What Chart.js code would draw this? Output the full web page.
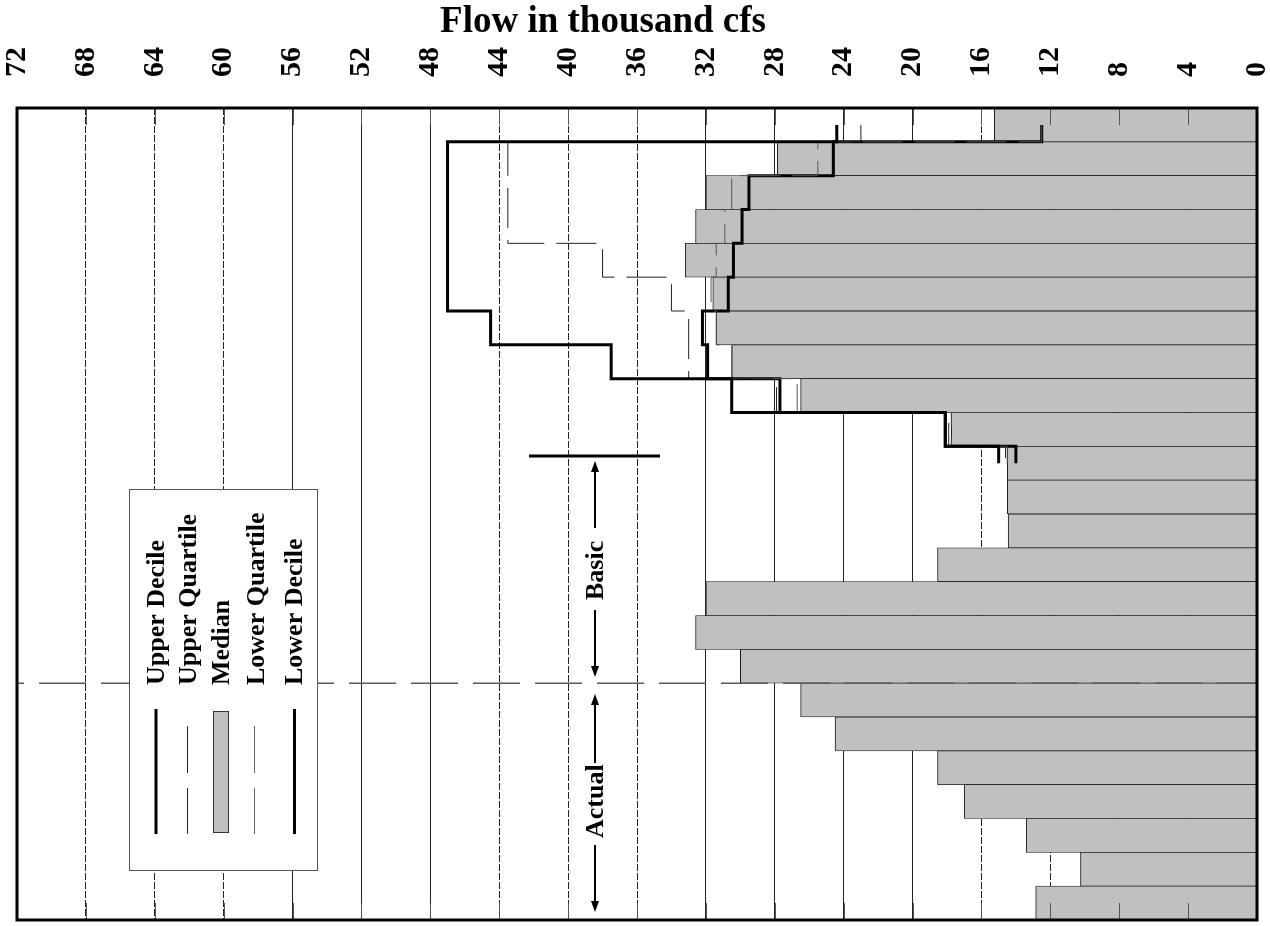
<!DOCTYPE html>
<html>
<head>
<meta charset="utf-8">
<title>Flow in thousand cfs</title>
<script src="https://cdn.jsdelivr.net/npm/chart.js@4.4.1/dist/chart.umd.min.js"></script>
<style>
  html, body { margin: 0; padding: 0; background: #fff; }
  #wrap { width: 1270px; height: 926px; position: relative; }
</style>
</head>
<body>
<div id="wrap"><canvas id="flow-chart"></canvas></div>
<script>
// periods run down the page, flow (thousand cfs) runs right to left
const periods = ['1', '2', '3', '4', '5', '6', '7', '8', '9', '10', '11', '12',
                 '13', '14', '15', '16', '17', '18', '19', '20', '21', '22', '23', '24'];
const median = [15.25, 27.85, 32.0, 32.6, 33.2, 31.6, 31.4, 30.5, 26.5, 17.75, 14.5, 14.5,
                14.45, 18.55, 32.0, 32.6, 30.0, 26.5, 24.5, 18.55, 17.0, 13.4, 10.25, 12.85];

// forecast band, periods 1-11
const upperDecile   = [24.4, 47.0, 47.0, 47.0, 47.0, 47.0, 44.5, 37.5, 30.5, 18.1, 15.0];
const upperQuartile = [23.0, 43.5, 43.5, 43.5, 38.0, 34.0, 33.0, 33.0, 27.9, 17.9, 14.6];
const lowerQuartile = [12.5, 25.5, 30.5, 30.9, 31.4, 31.7, 31.4, 30.5, 26.7, 17.75, 14.5];
const lowerDecile   = [12.5, 24.6, 29.5, 29.9, 30.4, 30.7, 32.2, 31.9, 27.7, 18.1, 14.0];

const flowTicks = [0, 4, 8, 12, 16, 20, 24, 28, 32, 36, 40, 44, 48, 52, 56, 60, 64, 68, 72];

const SERIF = '"Liberation Serif", "Times New Roman", serif';
const TICK_SIZE = 30;
const dashedFlows = [68, 64, 60, 44, 40, 36, 16, 12];
const forecastStart = 0.5;   // forecast begins half way through period 1
const forecastEnd = 10.5;    // and stops half way through period 11
const actualFrom = 17;       // boundary between basic and actual periods

// each period gets a vertical run at its value, joined by horizontal steps
function stepPoints(values) {
  const pts = [];
  values.forEach((v, i) => {
    const top = i === 0 ? forecastStart : i;
    const bottom = i === values.length - 1 ? forecastEnd : i + 1;
    pts.push({ x: v, y: top }, { x: v, y: bottom });
  });
  return pts;
}

function stepLine(label, values, style) {
  return Object.assign({
    type: 'line',
    label,
    data: stepPoints(values),
    pointRadius: 0,
    tension: 0,
    fill: false,
    borderCapStyle: 'butt',
    borderJoinStyle: 'miter',
    order: 0
  }, style);
}

function rotatedText(ctx, text, x, y) {
  ctx.save();
  ctx.translate(x, y);
  ctx.rotate(-Math.PI / 2);
  ctx.textAlign = 'left';
  ctx.textBaseline = 'alphabetic';
  ctx.fillText(text, 0, 0);
  ctx.restore();
}

function vline(ctx, x, y1, y2) {
  ctx.beginPath();
  ctx.moveTo(x, y1);
  ctx.lineTo(x, y2);
  ctx.stroke();
}

function arrowHead(ctx, x, tipY, dir) {
  // dir = -1 points up, 1 points down
  ctx.beginPath();
  ctx.moveTo(x, tipY);
  ctx.lineTo(x - 4, tipY - dir * 11);
  ctx.lineTo(x + 4, tipY - dir * 11);
  ctx.closePath();
  ctx.fill();
}

const decorations = {
  id: 'decorations',
  afterDraw(chart) {
    const { ctx, chartArea: a, scales: { x, y } } = chart;
    ctx.save();

    // inward tick marks along top and bottom edges
    ctx.strokeStyle = '#555';
    ctx.lineWidth = 1;
    flowTicks.forEach(v => {
      if (v === 0 || v === 72) return;
      const px = Math.round(x.getPixelForValue(v)) + 0.5;
      vline(ctx, px, a.top, a.top + 17);
      vline(ctx, px, a.bottom - 17, a.bottom);
    });

    // dashed divider between basic and actual periods
    const yDiv = y.getPixelForValue(actualFrom);
    ctx.strokeStyle = '#5a5a5a';
    ctx.lineWidth = 1.5;
    ctx.setLineDash([47, 15]);
    ctx.lineDashOffset = 40;
    ctx.beginPath();
    ctx.moveTo(a.left, yDiv);
    ctx.lineTo(a.right, yDiv);
    ctx.stroke();
    ctx.setLineDash([]);
    ctx.lineDashOffset = 0;

    // legend
    ctx.fillStyle = '#fff';
    ctx.fillRect(129, 489, 189, 382);
    ctx.strokeStyle = '#555';
    ctx.lineWidth = 1;
    ctx.strokeRect(129.5, 489.5, 188, 381);

    ctx.strokeStyle = '#000';
    ctx.lineWidth = 3;
    vline(ctx, 156, 709, 834);
    vline(ctx, 294.5, 709, 834);
    ctx.lineWidth = 1;
    ctx.strokeStyle = '#222';
    vline(ctx, 187.5, 726, 773);
    vline(ctx, 187.5, 788, 834);
    ctx.strokeStyle = '#666';
    vline(ctx, 254.5, 726, 773);
    vline(ctx, 254.5, 788, 834);
    ctx.fillStyle = '#c0c0c0';
    ctx.fillRect(213.5, 711.5, 15, 121);
    ctx.strokeStyle = '#333';
    ctx.strokeRect(213.5, 711.5, 15, 121);

    ctx.fillStyle = '#000';
    ctx.font = 'bold 26px ' + SERIF;
    rotatedText(ctx, 'Upper Decile', 164, 685);
    rotatedText(ctx, 'Upper Quartile', 196, 685);
    rotatedText(ctx, 'Median', 229, 685);
    rotatedText(ctx, 'Lower Quartile', 264, 685);
    rotatedText(ctx, 'Lower Decile', 302, 685);

    // basic / actual span markers
    ctx.strokeStyle = '#000';
    ctx.lineWidth = 3;
    ctx.beginPath();
    ctx.moveTo(529, 456);
    ctx.lineTo(660, 456);
    ctx.stroke();

    const ax = 595;
    ctx.lineWidth = 2;
    vline(ctx, ax, 470, 528);
    vline(ctx, ax, 610, 668);
    vline(ctx, ax, 703, 763);
    vline(ctx, ax, 845, 903);
    arrowHead(ctx, ax, 461, -1);
    arrowHead(ctx, ax, 677, 1);
    arrowHead(ctx, ax, 694, -1);
    arrowHead(ctx, ax, 912, 1);
    rotatedText(ctx, 'Basic', 603, 600);
    rotatedText(ctx, 'Actual', 603, 838);

    // frame
    ctx.strokeStyle = '#000';
    ctx.lineWidth = 3;
    ctx.strokeRect(a.left, a.top, a.right - a.left, a.bottom - a.top);

    // axis title
    ctx.font = 'bold 37px ' + SERIF;
    ctx.textAlign = 'center';
    ctx.textBaseline = 'alphabetic';
    ctx.fillText('Flow in thousand cfs', 603, 32);

    ctx.restore();
  }
};

new Chart(document.getElementById('flow-chart'), {
  data: {
    labels: periods,
    datasets: [
      stepLine('Upper Decile', upperDecile, { borderWidth: 3, borderColor: '#000' }),
      stepLine('Upper Quartile', upperQuartile, { borderWidth: 1, borderColor: '#222', borderDash: [40, 12] }),
      stepLine('Lower Quartile', lowerQuartile, { borderWidth: 1, borderColor: '#555', borderDash: [40, 12] }),
      stepLine('Lower Decile', lowerDecile, { borderWidth: 3, borderColor: '#000' }),
      {
        type: 'bar',
        label: 'Median',
        indexAxis: 'y',
        order: 1,
        data: median.map((v, i) => ({ x: v, y: i + 0.5 })),
        backgroundColor: '#c0c0c0',
        borderColor: '#1a1a1a',
        borderWidth: { left: 1, top: 0.75, bottom: 0.75, right: 0 },
        borderSkipped: false,
        barPercentage: 1,
        categoryPercentage: 1
      }
    ]
  },
  options: {
    responsive: true,
    maintainAspectRatio: false,
    animation: false,
    devicePixelRatio: 1,
    layout: { padding: { left: 17, right: 13, top: 0, bottom: 6 } },
    plugins: {
      legend: { display: false },
      tooltip: { enabled: false },
      title: { display: false }
    },
    scales: {
      x: {
        type: 'linear',
        position: 'top',
        reverse: true,
        min: 0,
        max: 72,
        afterBuildTicks: s => { s.ticks = flowTicks.map(value => ({ value })); },
        afterFit: s => { s.height = 108; s.paddingLeft = 0; s.paddingRight = 0; },
        ticks: {
          font: { family: SERIF, size: TICK_SIZE, weight: 'bold' },
          color: '#000',
          minRotation: 90,
          maxRotation: 90,
          padding: 31,
          labelOffset: TICK_SIZE * 1.2,
          autoSkip: false
        },
        grid: { color: '#222', lineWidth: 1, drawTicks: false },
        border: {
          display: false,
          dash: c => (c.tick && dashedFlows.includes(c.tick.value)) ? [7, 2] : []
        }
      },
      y: {
        type: 'linear',
        min: 0,
        max: 24,
        reverse: true,
        offset: false,
        display: false,
        ticks: { stepSize: 1 }
      }
    }
  },
  plugins: [decorations]
});
</script>
</body>
</html>
